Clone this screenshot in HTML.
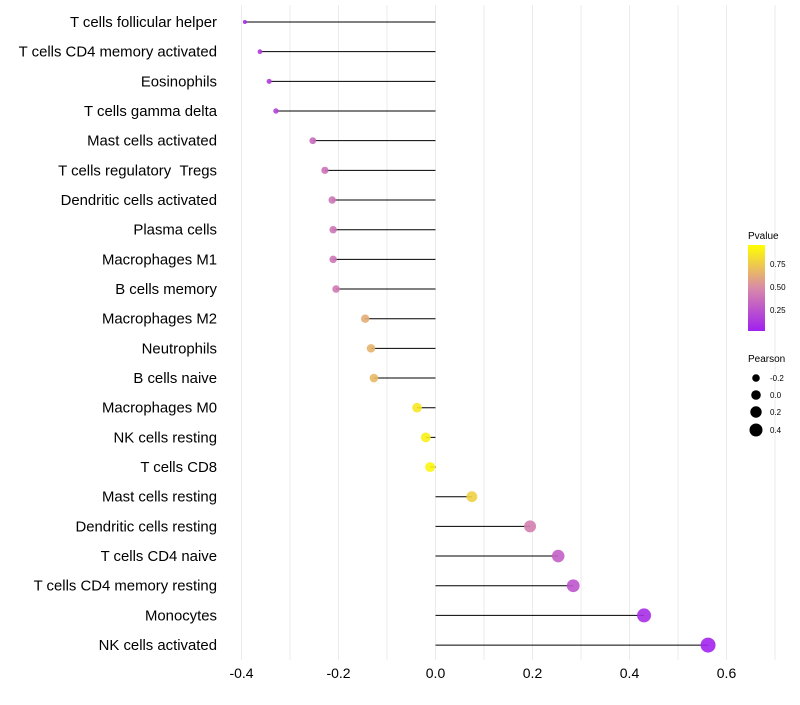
<!DOCTYPE html>
<html><head><meta charset="utf-8"><style>
body{margin:0;background:#fff;font-family:"Liberation Sans",sans-serif}
</style></head><body>
<svg id="chart" width="800" height="700" xmlns="http://www.w3.org/2000/svg" font-family="Liberation Sans, sans-serif">
<g id="grid"></g>
<g id="marks"></g>
<g id="ylabels"></g>
<g id="xlabels"></g>
<g>
<defs><linearGradient id="pg" x1="0" y1="1" x2="0" y2="0">
<stop offset="0" stop-color="#a020f0"/><stop offset="0.5" stop-color="#d98aa8"/><stop offset="1" stop-color="#ffff00"/></linearGradient></defs>
<text x="748" y="239" font-size="10">Pvalue</text>
<rect x="748" y="245" width="17" height="86" fill="url(#pg)"/>
<text x="770" y="267" font-size="8">0.75</text>
<text x="770" y="290" font-size="8">0.50</text>
<text x="770" y="313" font-size="8">0.25</text>
</g>
<g>
<text x="748" y="362" font-size="10">Pearson</text>
<circle cx="756" cy="378" r="3.8"/><text x="770" y="381" font-size="8">-0.2</text>
<circle cx="756" cy="395" r="4.8"/><text x="770" y="398" font-size="8">0.0</text>
<circle cx="756" cy="412" r="5.7"/><text x="770" y="415" font-size="8">0.2</text>
<circle cx="756" cy="430" r="6.5"/><text x="770" y="433" font-size="8">0.4</text>
</g>
</svg>
<script>
const cells=["T cells follicular helper","T cells CD4 memory activated","Eosinophils","T cells gamma delta","Mast cells activated","T cells regulatory \u00a0Tregs","Dendritic cells activated","Plasma cells","Macrophages M1","B cells memory","Macrophages M2","Neutrophils","B cells naive","Macrophages M0","NK cells resting","T cells CD8","Mast cells resting","Dendritic cells resting","T cells CD4 naive","T cells CD4 memory resting","Monocytes","NK cells activated"];
const pearson=[-0.393,-0.362,-0.343,-0.329,-0.253,-0.228,-0.213,-0.211,-0.211,-0.205,-0.145,-0.133,-0.127,-0.038,-0.020,-0.011,0.075,0.195,0.253,0.284,0.430,0.562];
const pvalue=[0.05,0.12,0.14,0.17,0.36,0.38,0.40,0.40,0.40,0.42,0.65,0.68,0.70,0.90,0.93,0.96,0.80,0.45,0.30,0.25,0.06,0.02];
const xTicks=[-0.4,-0.2,0.0,0.2,0.4,0.6];
const NS="http://www.w3.org/2000/svg";
const x=v=>435.5+v*485;
const y=i=>22+i*29.67;
function mk(t,a,p){const e=document.createElementNS(NS,t);for(const k in a)e.setAttribute(k,a[k]);p.appendChild(e);return e;}
function lerp(a,b,t){return a.map((c,i)=>Math.round(c+(b[i]-c)*t));}
function col(p){const lo=[160,32,240],mid=[217,138,168],hi=[255,255,0];const c=p<0.5?lerp(lo,mid,p/0.5):lerp(mid,hi,(p-0.5)/0.5);return `rgb(${c})`;}
const grid=document.getElementById('grid'),marks=document.getElementById('marks'),yl=document.getElementById('ylabels'),xl=document.getElementById('xlabels');
for(let v=-0.4;v<=0.701;v+=0.1){
const g=mk('line',{x1:x(v),x2:x(v),y1:5,y2:660,stroke:'#ebebeb','stroke-width':1},grid);


}
xTicks.forEach(t=>{
const e=mk('text',{x:x(t),y:678,'font-size':14,'text-anchor':'middle',fill:'#000'},xl);
e.textContent=t.toFixed(1);


});
cells.forEach((c,i)=>{
const t=mk('text',{x:217,y:y(i)+5,'font-size':14.9,'text-anchor':'end',fill:'#000'},yl);
t.textContent=c;


const l=mk('line',{x1:x(0),x2:x(pearson[i]),y1:y(i),y2:y(i),stroke:'#000','stroke-width':1},marks);


const r=Math.sqrt(Math.max(3,25.4+54.7*pearson[i]));
const d=mk('circle',{cx:x(pearson[i]),cy:y(i),r:r,fill:col(pvalue[i]),'fill-opacity':0.9},marks);


});
</script>
</body></html>
